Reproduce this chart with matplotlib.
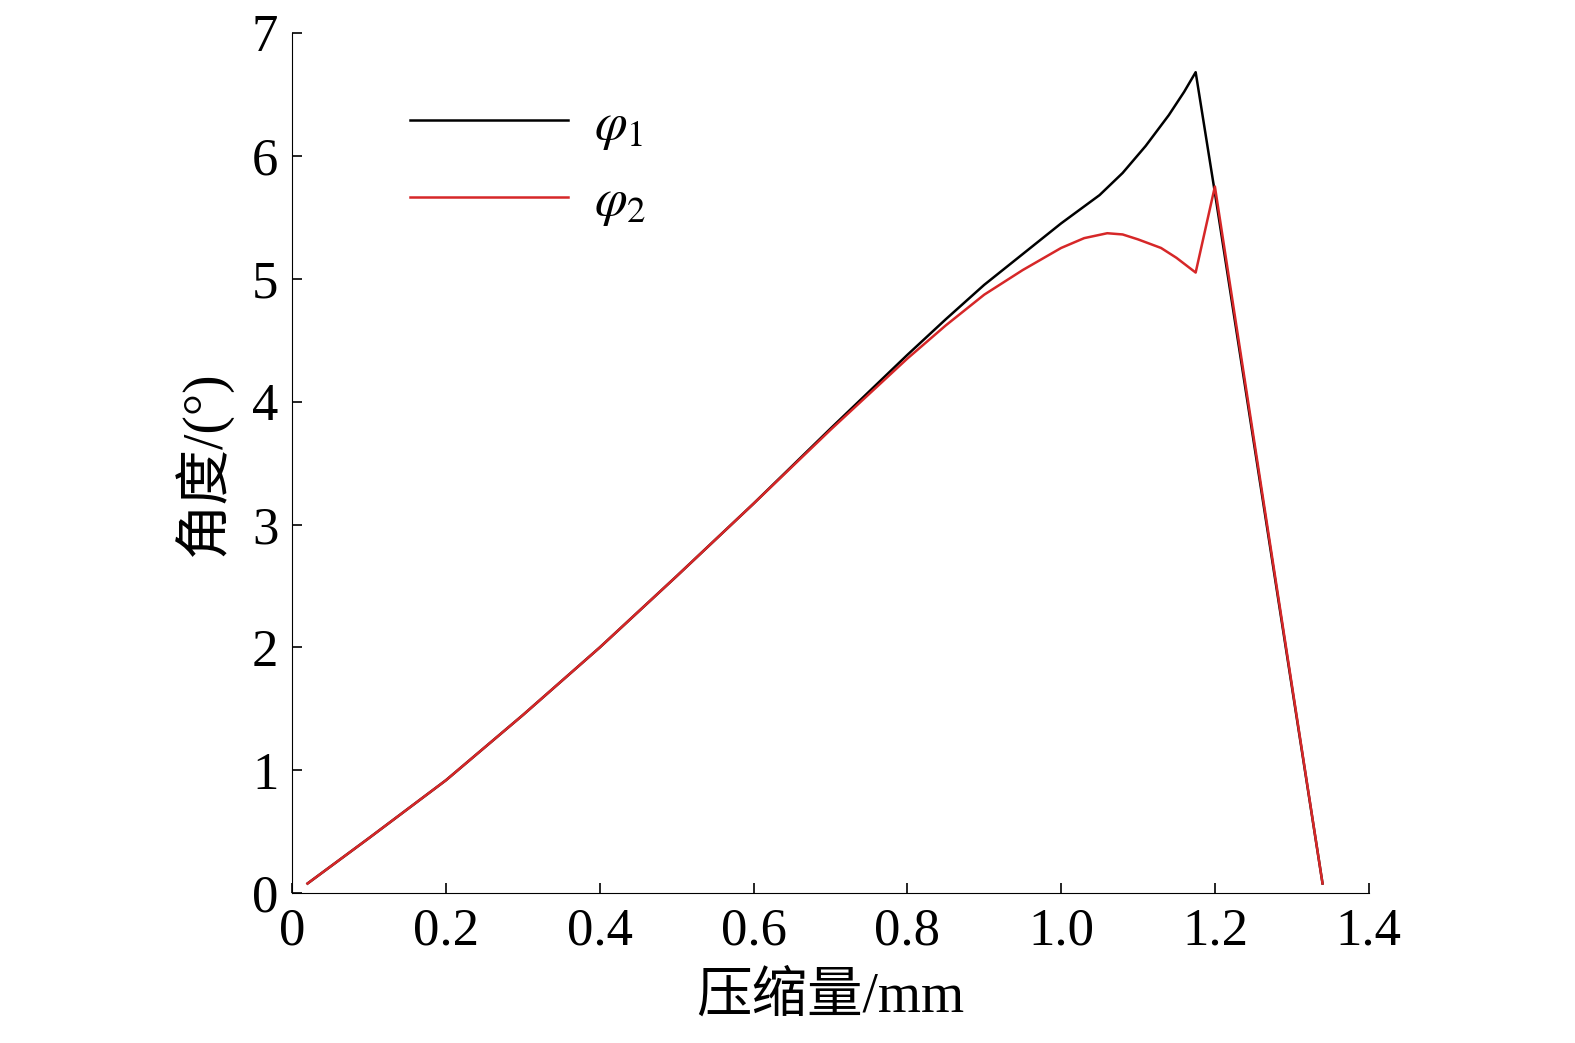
import matplotlib.pyplot as plt

plt.rcParams['font.family'] = ['Liberation Serif', 'Noto Sans CJK SC']
plt.rcParams['mathtext.fontset'] = 'stix'

x1 = [0.02, 0.1, 0.2, 0.3, 0.4, 0.5, 0.6, 0.7, 0.8, 0.85, 0.9, 0.95, 1.0, 1.05, 1.08, 1.11, 1.14, 1.16, 1.175, 1.2, 1.34]
phi1 = [0.08, 0.45, 0.92, 1.45, 2.0, 2.58, 3.17, 3.78, 4.38, 4.67, 4.95, 5.2, 5.45, 5.68, 5.86, 6.08, 6.33, 6.52, 6.68, 5.7, 0.08]

x2 = [0.02, 0.1, 0.2, 0.3, 0.4, 0.5, 0.6, 0.7, 0.8, 0.85, 0.9, 0.95, 1.0, 1.03, 1.06, 1.08, 1.1, 1.13, 1.15, 1.175, 1.2, 1.34]
phi2 = [0.08, 0.45, 0.92, 1.45, 2.0, 2.58, 3.17, 3.77, 4.35, 4.62, 4.87, 5.07, 5.25, 5.33, 5.37, 5.36, 5.32, 5.25, 5.17, 5.05, 5.75, 0.08]

xticks = [0, 0.2, 0.4, 0.6, 0.8, 1.0, 1.2, 1.4]
xlabels = ['0', '0.2', '0.4', '0.6', '0.8', '1.0', '1.2', '1.4']

fig = plt.figure(figsize=(15.75, 10.43), dpi=100)
ax = fig.add_axes([0.1855, 0.1435, 0.6835, 0.825])
ax.plot(x1, phi1, color='black', lw=1.8, label=r'$\varphi_1$')
ax.plot(x2, phi2, color='#d62728', lw=1.8, label=r'$\varphi_2$')

ax.set_xlim(0, 1.4)
ax.set_ylim(0, 7)
ax.set_xticks(xticks)
ax.set_xticklabels(xlabels)
ax.set_yticks(range(8))
for s in ['top', 'right']:
    ax.spines[s].set_visible(False)
ax.tick_params(direction='in', labelsize=38, length=7, width=1.2, pad=10)
ax.set_xlabel('压缩量/mm', fontsize=40, labelpad=12)
ax.set_ylabel('角度/(°)', fontsize=40, labelpad=14)

ax.legend(loc='upper left', bbox_to_anchor=(0.065, 0.975), frameon=False, fontsize=38,
          handlelength=3.0, handletextpad=0.5, labelspacing=0.5)

fig.savefig('out.png')
